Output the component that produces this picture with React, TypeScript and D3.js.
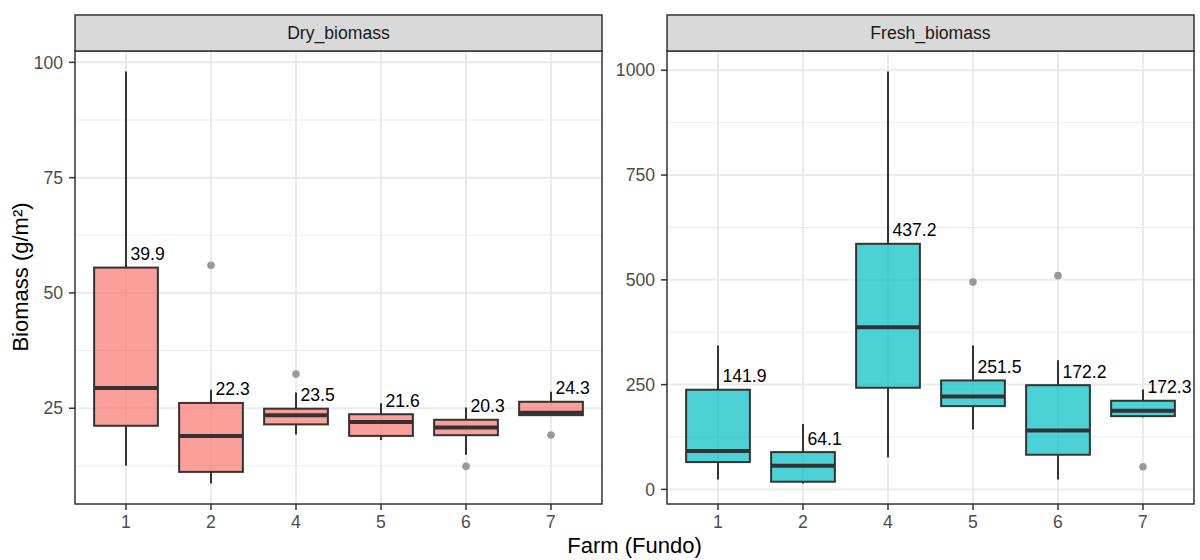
import React from "react";
import * as d3 from "d3";

// farms on the x axis
const farms = ["1", "2", "4", "5", "6", "7"];

// Dry biomass box stats (g/m²)
const dryLow = [12.6, 8.7, 19.3, 18.1, 14.9, 23.4];
const dryQ1 = [21.2, 11.2, 21.5, 19.0, 19.15, 23.5];
const dryMedian = [29.4, 19.0, 23.5, 22.0, 20.8, 24.0];
const dryQ3 = [55.5, 26.15, 24.9, 23.7, 22.5, 26.4];
const dryHigh = [98.0, 29.0, 28.4, 26.1, 25.15, 28.6];
const dryMeanLabels = ["39.9", "22.3", "23.5", "21.6", "20.3", "24.3"];
const dryOutlierFarms = ["2", "4", "6", "7"];
const dryOutlierValues = [56.0, 32.4, 12.4, 19.2];
const dryTicks = [25, 50, 75, 100];

// Fresh biomass box stats (g/m²)
const freshLow = [23.8, 14.3, 77, 143, 23.8, 172];
const freshQ1 = [65.2, 18.3, 242.5, 198.7, 82.7, 174.8];
const freshMedian = [91.4, 56.5, 387, 221.8, 140.7, 187.7];
const freshQ3 = [237.8, 89, 586, 260, 248.7, 211.5];
const freshHigh = [343.4, 155.8, 996.9, 343.4, 308.4, 238.5];
const freshMeanLabels = ["141.9", "64.1", "437.2", "251.5", "172.2", "172.3"];
const freshOutlierFarms = ["5", "6", "7"];
const freshOutlierValues = [495, 510, 54.1];
const freshTicks = [0, 250, 500, 750, 1000];

const FONT = "'Liberation Sans', Arial, Helvetica, sans-serif";
const TOP = 51;
const BOTTOM = 504;
const STRIP_TOP = 15;

type PanelProps = {
  x0: number;
  x1: number;
  title: string;
  fill: string;
  low: number[];
  q1: number[];
  median: number[];
  q3: number[];
  high: number[];
  labels: string[];
  outFarms: string[];
  outValues: number[];
  ticks: number[];
};

function Panel(p: PanelProps) {
  const all = [...p.low, ...p.high, ...p.outValues];
  const lo = d3.min(all)!;
  const hi = d3.max(all)!;
  const pad = (hi - lo) * 0.05;
  const y = d3.scaleLinear().domain([lo - pad, hi + pad]).range([BOTTOM, TOP]);
  const x = d3.scalePoint().domain(farms).range([p.x0, p.x1]).padding(0.6);
  const bw = x.step() * 0.75;
  const step = p.ticks[1] - p.ticks[0];
  const minor = d3.range(p.ticks[0] - step / 2, p.ticks[p.ticks.length - 1] + step, step)
    .filter((v) => y(v) > TOP && y(v) < BOTTOM);
  const clipId = "clip-" + p.title;

  return (
    <g>
      <defs>
        <clipPath id={clipId}>
          <rect x={p.x0} y={TOP} width={p.x1 - p.x0} height={BOTTOM - TOP} />
        </clipPath>
      </defs>
      <rect x={p.x0} y={TOP} width={p.x1 - p.x0} height={BOTTOM - TOP} fill="#fff" />
      <g clipPath={`url(#${clipId})`}>
        {minor.map((v) => (
          <line key={"mn" + v} x1={p.x0} x2={p.x1} y1={y(v)} y2={y(v)} stroke="#EBEBEB" strokeWidth={1} />
        ))}
        {p.ticks.map((v) => (
          <line key={"mj" + v} x1={p.x0} x2={p.x1} y1={y(v)} y2={y(v)} stroke="#EBEBEB" strokeWidth={2} />
        ))}
        {farms.map((f) => (
          <line key={"gx" + f} x1={x(f)} x2={x(f)} y1={TOP} y2={BOTTOM} stroke="#EBEBEB" strokeWidth={2} />
        ))}
        {farms.map((f, i) => {
          const cx = x(f)!;
          return (
            <g key={"box" + f}>
              <line x1={cx} x2={cx} y1={y(p.high[i])} y2={y(p.q3[i])} stroke="#333" strokeWidth={2} />
              <line x1={cx} x2={cx} y1={y(p.q1[i])} y2={y(p.low[i])} stroke="#333" strokeWidth={2} />
              <rect
                x={cx - bw / 2}
                y={y(p.q3[i])}
                width={bw}
                height={y(p.q1[i]) - y(p.q3[i])}
                fill={p.fill}
                fillOpacity={0.7}
                stroke="#333"
                strokeWidth={2}
              />
              <line x1={cx - bw / 2} x2={cx + bw / 2} y1={y(p.median[i])} y2={y(p.median[i])} stroke="#333" strokeWidth={4} />
            </g>
          );
        })}
        {p.outFarms.map((f, i) => (
          <circle key={"o" + i} cx={x(f)} cy={y(p.outValues[i])} r={3.8} fill="#999999" />
        ))}
      </g>
      {farms.map((f, i) => (
        <text key={"lab" + f} x={x(f)! + 4.5} y={y(p.q3[i]) - 7.5} fontSize={17.6} fill="#000" fontFamily={FONT}>
          {p.labels[i]}
        </text>
      ))}
      <rect x={p.x0} y={TOP} width={p.x1 - p.x0} height={BOTTOM - TOP} fill="none" stroke="#333" strokeWidth={1.5} />
      {/* strip */}
      <rect x={p.x0} y={STRIP_TOP} width={p.x1 - p.x0} height={TOP - STRIP_TOP} fill="#D9D9D9" stroke="#333" strokeWidth={1.5} />
      <text x={(p.x0 + p.x1) / 2} y={(STRIP_TOP + TOP) / 2} dy="0.35em" textAnchor="middle" fontSize={17.6} fill="#1A1A1A" fontFamily={FONT}>
        {p.title}
      </text>
      {/* y axis */}
      {p.ticks.map((v) => (
        <g key={"yt" + v}>
          <line x1={p.x0 - 6} x2={p.x0} y1={y(v)} y2={y(v)} stroke="#333" strokeWidth={1.5} />
          <text x={p.x0 - 12} y={y(v)} dy="0.35em" textAnchor="end" fontSize={17.6} fill="#4D4D4D" fontFamily={FONT}>
            {v}
          </text>
        </g>
      ))}
      {/* x axis */}
      {farms.map((f) => (
        <g key={"xt" + f}>
          <line x1={x(f)} x2={x(f)} y1={BOTTOM} y2={BOTTOM + 6} stroke="#333" strokeWidth={1.5} />
          <text x={x(f)} y={528} textAnchor="middle" fontSize={17.6} fill="#4D4D4D" fontFamily={FONT}>
            {f}
          </text>
        </g>
      ))}
    </g>
  );
}

export default function App() {
  return (
    <svg width={1200} height={560} style={{ position: "absolute", left: 0, top: 0, background: "#fff" }}>
      <rect width={1200} height={560} fill="#fff" />
      <Panel
        x0={75}
        x1={602}
        title="Dry_biomass"
        fill="#F8766D"
        low={dryLow}
        q1={dryQ1}
        median={dryMedian}
        q3={dryQ3}
        high={dryHigh}
        labels={dryMeanLabels}
        outFarms={dryOutlierFarms}
        outValues={dryOutlierValues}
        ticks={dryTicks}
      />
      <Panel
        x0={667}
        x1={1194}
        title="Fresh_biomass"
        fill="#00BFC4"
        low={freshLow}
        q1={freshQ1}
        median={freshMedian}
        q3={freshQ3}
        high={freshHigh}
        labels={freshMeanLabels}
        outFarms={freshOutlierFarms}
        outValues={freshOutlierValues}
        ticks={freshTicks}
      />
      <text x={634.5} y={553} textAnchor="middle" fontSize={22} fill="#000" fontFamily={FONT}>
        Farm (Fundo)
      </text>
      <text transform="translate(28,277) rotate(-90)" textAnchor="middle" fontSize={22} fill="#000" fontFamily={FONT}>
        Biomass (g/m²)
      </text>
    </svg>
  );
}
